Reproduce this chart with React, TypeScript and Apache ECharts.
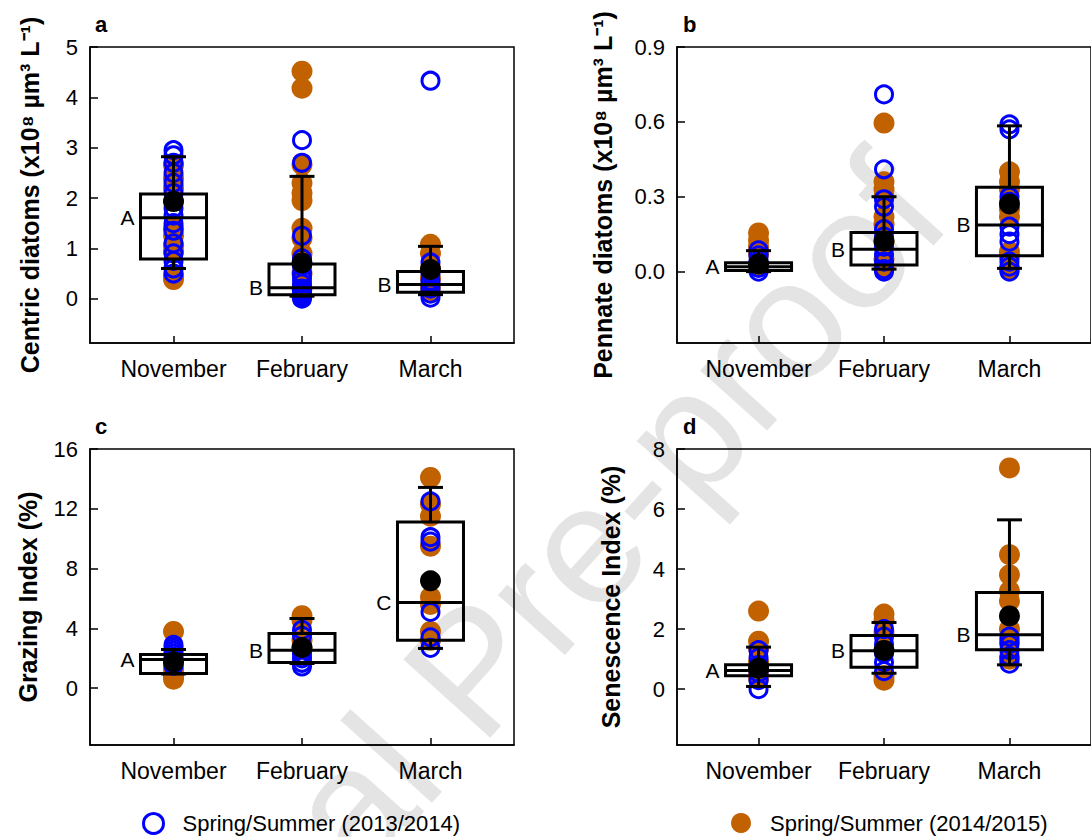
import React, { useEffect, useRef } from 'react';
import * as echarts from 'echarts';

const MONTHS = ['November', 'February', 'March'];
const NAME_2013 = 'Spring/Summer (2013/2014)';
const NAME_2014 = 'Spring/Summer (2014/2015)';

// Panel a: Centric diatoms
const blueA = [
  [2.95, 2.85, 2.7, 2.5, 2.3, 2.1, 1.95, 1.8, 1.65, 1.5, 1.35, 1.1, 0.9, 0.75, 0.6, 0.5],
  [3.15, 2.7, 1.25, 0.8, 0.65, 0.5, 0.4, 0.3, 0.2, 0.15, 0.1, 0.05, 0.0],
  [4.33, 0.72, 0.5, 0.35, 0.2, 0.1, 0.02],
];
const orangeA = [
  [2.65, 2.4, 2.2, 1.4, 1.25, 1.05, 0.95, 0.45, 0.38],
  [4.52, 4.18, 2.66, 2.3, 2.1, 1.95, 1.4, 1.2, 0.9, 0.5, 0.2, 0.05],
  [1.08, 0.9, 0.6, 0.4, 0.25, 0.12],
];
const boxA = [
  [0.6, 0.79, 1.61, 2.08, 2.82],
  [0.05, 0.08, 0.22, 0.69, 2.43],
  [0.08, 0.13, 0.28, 0.54, 1.04],
];
const meanA = [1.93, 0.71, 0.58];
const lettersA = ['A', 'B', 'B'];
const ticksA = [0, 1, 2, 3, 4, 5];

// Panel b: Pennate diatoms
const blueB = [
  [0.085, 0.065, 0.045, 0.03, 0.015, 0.0],
  [0.71, 0.41, 0.29, 0.26, 0.17, 0.14, 0.1, 0.07, 0.04, 0.01, 0.0],
  [0.59, 0.57, 0.3, 0.28, 0.18, 0.15, 0.12, 0.04, 0.02, 0.0],
];
const orangeB = [
  [0.155, 0.125, 0.1, 0.07, 0.02],
  [0.595, 0.36, 0.33, 0.3, 0.22, 0.19, 0.12, 0.05, 0.015],
  [0.4, 0.36, 0.33, 0.25, 0.22, 0.08, 0.06, 0.01],
];
const boxB = [
  [0.0, 0.004, 0.02, 0.036, 0.084],
  [0.01, 0.027, 0.09, 0.157, 0.3],
  [0.013, 0.064, 0.187, 0.338, 0.584],
];
const meanB = [0.031, 0.123, 0.271];
const lettersB = ['A', 'B', 'B'];
const ticksB = [0, 0.3, 0.6, 0.9];

// Panel c: Grazing Index
const blueC = [
  [2.9, 2.7, 2.5, 2.3, 2.1, 1.9, 1.7, 1.5],
  [3.9, 3.5, 2.3, 2.0, 1.7, 1.45],
  [12.5, 10.1, 9.8, 5.1, 3.4, 2.7],
];
const orangeC = [
  [3.8, 1.3, 1.0, 0.8, 0.6],
  [4.85, 4.55, 3.2, 2.6],
  [14.1, 12.3, 11.5, 9.5, 6.1, 5.6, 3.8, 3.2],
];
const boxC = [
  [0.95, 0.98, 1.92, 2.26, 2.59],
  [1.65, 1.72, 2.54, 3.66, 4.66],
  [2.66, 3.21, 5.74, 11.11, 13.43],
];
const meanC = [1.76, 2.72, 7.18];
const lettersC = ['A', 'B', 'C'];
const ticksC = [0, 4, 8, 12, 16];

// Panel d: Senescence Index
const blueD = [
  [1.3, 1.05, 0.8, 0.55, 0.3, 0.0],
  [2.0, 1.75, 1.5, 1.2, 0.9, 0.6],
  [1.75, 1.5, 1.3, 1.1, 0.85],
];
const orangeD = [
  [2.6, 1.6, 1.35, 0.9, 0.6, 0.35],
  [2.5, 2.3, 1.9, 0.45, 0.3],
  [7.37, 4.48, 3.81, 3.27, 2.94, 2.0, 1.6, 1.0],
];
const boxD = [
  [0.09, 0.45, 0.62, 0.81, 1.4],
  [0.53, 0.73, 1.28, 1.79, 2.22],
  [0.81, 1.31, 1.81, 3.22, 5.64],
];
const meanD = [0.7, 1.29, 2.44];
const lettersD = ['A', 'B', 'B'];
const ticksD = [0, 2, 4, 6, 8];

const FONT = '"Liberation Sans", Arial, sans-serif';
const BLUE = '#0000ff';
const ORANGE = '#c26100';

type Panel = {
  left: number;
  top: number;
  yMin: number;
  yMax: number;
  ticks: number[];
  decimals: number;
  name: string;
  nameGap: number;
  blue: number[][];
  orange: number[][];
  box: number[][];
  mean: number[];
  letters: string[];
};

const PANELS: Panel[] = [
  { left: 90, top: 47, yMin: -0.88, yMax: 5, ticks: ticksA, decimals: 0, name: 'Centric diatoms (x10\u2078 \u00b5m\u00b3 L\u207b\u00b9)', nameGap: 48, blue: blueA, orange: orangeA, box: boxA, mean: meanA, letters: lettersA },
  { left: 677, top: 47, yMin: -0.286, yMax: 0.9, ticks: ticksB, decimals: 1, name: 'Pennate diatoms (x10\u2078 \u00b5m\u00b3 L\u207b\u00b9)', nameGap: 62, blue: blueB, orange: orangeB, box: boxB, mean: meanB, letters: lettersB },
  { left: 90, top: 449, yMin: -3.8, yMax: 16, ticks: ticksC, decimals: 0, name: 'Grazing Index (%)', nameGap: 50, blue: blueC, orange: orangeC, box: boxC, mean: meanC, letters: lettersC },
  { left: 677, top: 449, yMin: -1.86, yMax: 8, ticks: ticksD, decimals: 0, name: 'Senescence Index (%)', nameGap: 54, blue: blueD, orange: orangeD, box: boxD, mean: meanD, letters: lettersD },
];

function toPoints(groups: number[][]) {
  const out: number[][] = [];
  groups.forEach((arr, i) => arr.forEach((v) => out.push([i + 1, v])));
  return out;
}

function buildOption() {
  const grid: any[] = [];
  const xAxis: any[] = [];
  const yAxis: any[] = [];
  const series: any[] = [];

  PANELS.forEach((p, idx) => {
    grid.push({
      left: p.left,
      top: p.top,
      width: 424,
      height: 296,
      show: true,
      borderColor: '#000',
      borderWidth: 1.5,
      backgroundColor: 'transparent',
    });
    xAxis.push({
      type: 'value',
      gridIndex: idx,
      min: 0.35,
      max: 3.65,
      splitLine: { show: false },
      axisLine: { onZero: false, lineStyle: { color: '#000', width: 1.5 } },
      axisTick: { inside: true, length: 7, lineStyle: { color: '#000', width: 1.5 }, customValues: [1, 2, 3] },
      axisLabel: {
        customValues: [1, 2, 3],
        formatter: (v: number) => MONTHS[Math.round(v) - 1] || '',
        fontSize: 23,
        color: '#000',
        fontFamily: FONT,
        margin: 14,
      },
    });
    yAxis.push({
      type: 'value',
      gridIndex: idx,
      min: p.yMin,
      max: p.yMax,
      name: p.name,
      nameLocation: 'middle',
      nameGap: p.nameGap,
      nameTextStyle: { fontSize: 25, fontWeight: 'bold', color: '#000', fontFamily: FONT },
      splitLine: { show: false },
      axisLine: { onZero: false, lineStyle: { color: '#000', width: 1.5 } },
      axisTick: { inside: true, length: 8, lineStyle: { color: '#000', width: 1.5 }, customValues: p.ticks },
      axisLabel: {
        customValues: p.ticks,
        formatter: (v: number) => v.toFixed(p.decimals),
        fontSize: 22,
        color: '#000',
        fontFamily: FONT,
        margin: 12,
      },
    });

    series.push({
      type: 'scatter',
      name: NAME_2014,
      xAxisIndex: idx,
      yAxisIndex: idx,
      symbol: 'circle',
      symbolSize: 21,
      itemStyle: { color: ORANGE, opacity: 1 },
      data: toPoints(p.orange),
      z: 2,
    });
    series.push({
      type: 'scatter',
      name: NAME_2013,
      xAxisIndex: idx,
      yAxisIndex: idx,
      symbol: 'circle',
      symbolSize: 17,
      itemStyle: { color: 'rgba(0,0,0,0)', borderColor: BLUE, borderWidth: 3, opacity: 1 },
      data: toPoints(p.blue),
      z: 3,
    });
    const letters = p.letters;
    series.push({
      type: 'custom',
      name: 'box' + idx,
      xAxisIndex: idx,
      yAxisIndex: idx,
      z: 4,
      encode: { x: 0, y: [1, 2, 3, 4, 5] },
      data: p.box.map((b, i) => [i + 1, ...b]),
      renderItem: (params: any, api: any) => {
        const x = api.value(0);
        const lo = api.coord([x, api.value(1)]);
        const q1 = api.coord([x, api.value(2)]);
        const med = api.coord([x, api.value(3)]);
        const q3 = api.coord([x, api.value(4)]);
        const hi = api.coord([x, api.value(5)]);
        const cx = med[0];
        const hb = 33;
        const hc = 12.5;
        const ls = { stroke: '#000', lineWidth: 3 };
        return {
          type: 'group',
          children: [
            { type: 'line', shape: { x1: cx, y1: q3[1], x2: cx, y2: hi[1] }, style: ls },
            { type: 'line', shape: { x1: cx - hc, y1: hi[1], x2: cx + hc, y2: hi[1] }, style: ls },
            { type: 'line', shape: { x1: cx, y1: q1[1], x2: cx, y2: lo[1] }, style: ls },
            { type: 'line', shape: { x1: cx - hc, y1: lo[1], x2: cx + hc, y2: lo[1] }, style: ls },
            { type: 'rect', shape: { x: cx - hb, y: q3[1], width: hb * 2, height: q1[1] - q3[1] }, style: { fill: 'none', stroke: '#000', lineWidth: 3 } },
            { type: 'line', shape: { x1: cx - hb, y1: med[1], x2: cx + hb, y2: med[1] }, style: ls },
            {
              type: 'text',
              x: cx - hb - 6,
              y: med[1],
              style: { text: letters[params.dataIndex], fill: '#000', fontSize: 21, fontFamily: FONT, align: 'right', verticalAlign: 'middle' },
            },
          ],
        };
      },
    });
    series.push({
      type: 'scatter',
      name: 'mean' + idx,
      xAxisIndex: idx,
      yAxisIndex: idx,
      symbol: 'circle',
      symbolSize: 21,
      itemStyle: { color: '#000', opacity: 1 },
      data: p.mean.map((m, i) => [i + 1, m]),
      z: 5,
    });
  });

  const panelLetters = [
    { t: 'a', x: 95, y: 13 },
    { t: 'b', x: 683, y: 13 },
    { t: 'c', x: 95, y: 415 },
    { t: 'd', x: 683, y: 415 },
  ];

  return {
    animation: false,
    backgroundColor: '#fff',
    textStyle: { fontFamily: FONT },
    grid,
    xAxis,
    yAxis,
    series,
    legend: [
      {
        data: [{ name: NAME_2013, icon: 'circle', itemStyle: { color: 'rgba(0,0,0,0)', borderColor: BLUE, borderWidth: 3 } }],
        left: 137,
        top: 807,
        itemWidth: 20,
        itemHeight: 20,
        selectedMode: false,
        textStyle: { fontSize: 22, color: '#000', fontFamily: FONT, padding: [0, 0, 0, 14] },
      },
      {
        data: [{ name: NAME_2014, icon: 'circle', itemStyle: { color: ORANGE } }],
        left: 726,
        top: 807,
        itemWidth: 20,
        itemHeight: 20,
        selectedMode: false,
        textStyle: { fontSize: 22, color: '#000', fontFamily: FONT, padding: [0, 0, 0, 14] },
      },
    ],
    graphic: [
      {
        type: 'text',
        x: 472,
        y: 670,
        rotation: (48 * Math.PI) / 180,
        z: -10,
        silent: true,
        style: { text: 'Journal Pre-proof', fontSize: 170, fill: '#e4e4e4', fontFamily: FONT, align: 'center', verticalAlign: 'middle' },
      },
      ...panelLetters.map((l) => ({
        type: 'text',
        left: l.x,
        top: l.y,
        style: { text: l.t, fontSize: 22, fontWeight: 'bold', fill: '#000', fontFamily: FONT },
      })),
    ],
  };
}

export default function App() {
  const ref = useRef<HTMLDivElement>(null);
  useEffect(() => {
    if (!ref.current) return;
    const chart = echarts.init(ref.current, undefined, { renderer: 'svg' });
    chart.setOption(buildOption() as any);
    return () => chart.dispose();
  }, []);
  return <div ref={ref} style={{ position: 'absolute', left: 0, top: 0, width: 1091, height: 837 }} />;
}
